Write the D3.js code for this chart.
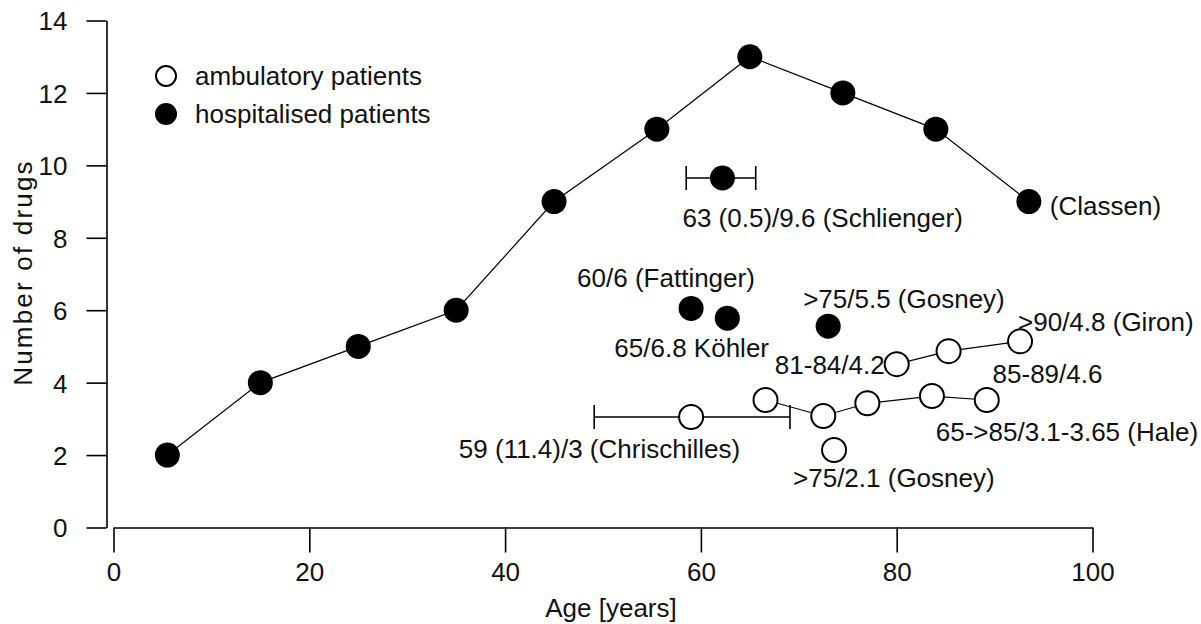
<!DOCTYPE html>
<html>
<head>
<meta charset="utf-8">
<script src="https://cdn.jsdelivr.net/npm/d3@7"></script>
<style>
  html, body { margin: 0; padding: 0; background: #fff; }
  svg { display: block; }
  text { font-family: "Liberation Sans", Arial, sans-serif; fill: #111; }
</style>
</head>
<body>
<svg id="chart" width="1201" height="624"></svg>
<script>
// ---- Data ----
// Classen: hospitalised patients by age group
const classenAge   = [5.5, 15, 25, 35, 45, 55.5, 65, 74.5, 84, 93.5];
const classenDrugs = [2, 4, 5, 6, 9, 11, 13, 12, 11, 9];

// single hospitalised studies
const hospStudies = ["Schlienger", "Fattinger", "Köhler", "Gosney"];
const hospAge     = [62.2, 59.0, 62.7, 73.0];
const hospDrugs   = [9.65, 6.05, 5.78, 5.56];
const schliengerRange = [58.5, 65.6];

// ambulatory: Chrischilles
const chrisAge = 59.0, chrisDrugs = 3.05;
const chrisRange = [49.1, 69.1];

// ambulatory: Hale series
const haleAge   = [66.6, 72.5, 77.0, 83.6, 89.2];
const haleDrugs = [3.52, 3.08, 3.43, 3.63, 3.52];

// ambulatory: Giron series
const gironAge   = [80.0, 85.3, 92.6];
const gironDrugs = [4.51, 4.87, 5.14];

// ambulatory: Gosney
const gosneyAmbAge = 73.6, gosneyAmbDrugs = 2.14;

const xTicks = [0, 20, 40, 60, 80, 100];
const yTicks = [0, 2, 4, 6, 8, 10, 12, 14];
const legendLabels = ["ambulatory patients", "hospitalised patients"];

// ---- Layout ----
const svg = d3.select("#chart");
const FS = 26;
const x = d3.scaleLinear().domain([0, 100]).range([113.5, 1092.5]);
const y = d3.scaleLinear().domain([0, 14]).range([527.5, 20.5]);
const R = 12;

// Y axis
const yAxis = svg.append("g").attr("transform", "translate(106.5,0)")
  .call(d3.axisLeft(y).tickValues(yTicks).tickSize(20).tickSizeOuter(0).tickPadding(19));
yAxis.select(".domain").attr("stroke", "#000").attr("stroke-width", 1.6);
yAxis.selectAll(".tick line").attr("stroke", "#000").attr("stroke-width", 1.6);
yAxis.selectAll(".tick text").attr("font-size", FS).attr("font-family", "Liberation Sans, Arial, sans-serif").attr("fill", "#111").attr("dy", "0.36em");

// X axis
const xAxis = svg.append("g").attr("transform", "translate(0,527.5)")
  .call(d3.axisBottom(x).tickValues(xTicks).tickSize(25).tickSizeOuter(0).tickPadding(10));
xAxis.select(".domain").attr("stroke", "#000").attr("stroke-width", 1.6);
xAxis.selectAll(".tick line").attr("stroke", "#000").attr("stroke-width", 1.6);
xAxis.selectAll(".tick text").attr("font-size", FS).attr("font-family", "Liberation Sans, Arial, sans-serif").attr("fill", "#111");

// Axis titles
svg.append("text").attr("x", 611).attr("y", 616.5).attr("text-anchor", "middle")
  .attr("font-size", FS).text("Age [years]");
svg.append("text").attr("transform", "translate(32,272.5) rotate(-90)")
  .attr("text-anchor", "middle").attr("font-size", FS).attr("letter-spacing", 2.2)
  .text("Number of drugs");

const lineGen = d3.line().x(d => x(d[0])).y(d => y(d[1]));
const zip = (a, b) => a.map((v, i) => [v, b[i]]);

// error bars
function errBar(lo, hi, yv, cap) {
  const g = svg.append("g").attr("stroke", "#000").attr("stroke-width", 1.6);
  g.append("line").attr("x1", x(lo)).attr("x2", x(hi)).attr("y1", y(yv)).attr("y2", y(yv));
  g.append("line").attr("x1", x(lo)).attr("x2", x(lo)).attr("y1", y(yv) - cap).attr("y2", y(yv) + cap);
  g.append("line").attr("x1", x(hi)).attr("x2", x(hi)).attr("y1", y(yv) - cap).attr("y2", y(yv) + cap);
}
errBar(schliengerRange[0], schliengerRange[1], hospDrugs[0], 12);
errBar(chrisRange[0], chrisRange[1], chrisDrugs, 12);

// lines
[[classenAge, classenDrugs], [haleAge, haleDrugs], [gironAge, gironDrugs]].forEach(([a, b]) => {
  svg.append("path").datum(zip(a, b)).attr("d", lineGen)
    .attr("fill", "none").attr("stroke", "#000").attr("stroke-width", 1.2);
});

function dots(pts, filled) {
  svg.append("g").selectAll("circle").data(pts).join("circle")
    .attr("cx", d => x(d[0])).attr("cy", d => y(d[1])).attr("r", filled ? R + 0.5 : R)
    .attr("fill", filled ? "#000" : "#fff")
    .attr("stroke", "#000").attr("stroke-width", filled ? 0 : 2);
}
dots(zip(classenAge, classenDrugs), true);
dots(zip(hospAge, hospDrugs), true);
dots([[chrisAge, chrisDrugs]], false);
dots(zip(haleAge, haleDrugs), false);
dots(zip(gironAge, gironDrugs), false);
dots([[gosneyAmbAge, gosneyAmbDrugs]], false);

// labels (offsets from the point they describe)
function label(px, py, dx, dy, txt, anchor) {
  svg.append("text").attr("x", px + dx).attr("y", py + dy)
    .attr("text-anchor", anchor || "start").attr("font-size", FS).text(txt);
}
const last = a => a[a.length - 1];
label(x(hospAge[0]), y(hospDrugs[0]), -40, 49, "63 (0.5)/9.6 (Schlienger)");
label(x(last(classenAge)), y(last(classenDrugs)), 21, 13, "(Classen)");
label(x(hospAge[1]), y(hospDrugs[1]), -114, -21, "60/6 (Fattinger)");
label(x(hospAge[2]), y(hospDrugs[2]), -113, 39, "65/6.8 Köhler");
label(x(hospAge[3]), y(hospDrugs[3]), -25, -18, ">75/5.5 (Gosney)");
label(x(gironAge[2]), y(gironDrugs[2]), -2, -10, ">90/4.8 (Giron)");
label(x(gironAge[0]), y(gironDrugs[0]), -12, 10, "81-84/4.2", "end");
label(x(gironAge[1]), y(gironDrugs[1]), 44, 32, "85-89/4.6");
label(x(last(haleAge)), y(last(haleDrugs)), -51, 41, "65->85/3.1-3.65 (Hale)");
label(x(chrisAge), y(chrisDrugs), 49, 41, "59 (11.4)/3 (Chrischilles)", "end");
label(x(gosneyAmbAge), y(gosneyAmbDrugs), -41, 37, ">75/2.1 (Gosney)");

// legend
const leg = svg.append("g");
legendLabels.forEach((t, i) => {
  const cy = 76 + i * 38;
  leg.append("circle").attr("cx", 166).attr("cy", cy).attr("r", i === 0 ? 10 : 11)
    .attr("fill", i === 0 ? "#fff" : "#000").attr("stroke", "#000").attr("stroke-width", i === 0 ? 2 : 0);
  leg.append("text").attr("x", 195).attr("y", cy + 9).attr("font-size", FS).text(t);
});
</script>
</body>
</html>
